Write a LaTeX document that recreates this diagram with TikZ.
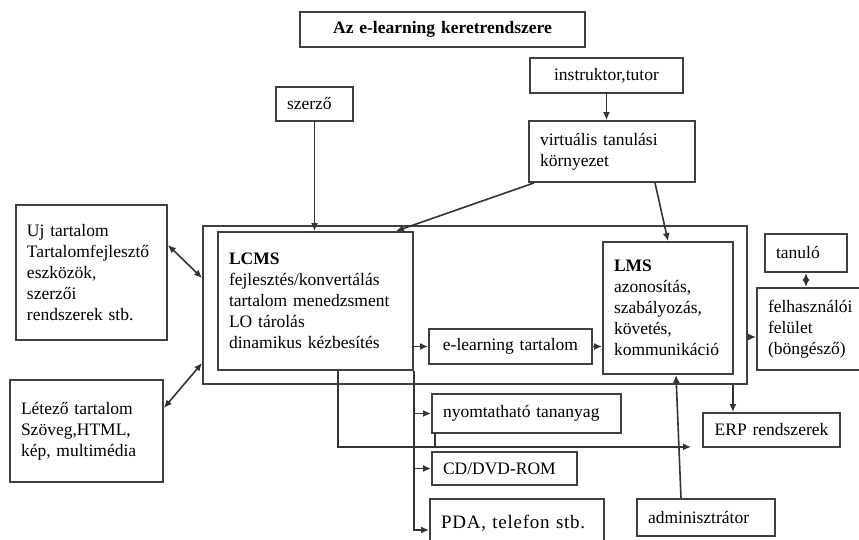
\documentclass[tikz,border=0pt]{standalone}
\usepackage{fontspec}
\setmainfont{Liberation Serif}
\usetikzlibrary{arrows.meta}

\begin{document}
\begin{tikzpicture}[x=1pt,y=-1pt,
  box/.style={draw=black!75,line width=1.8pt,inner xsep=11pt,inner ysep=0pt,align=left,
    font=\fontsize{17.5}{21}\selectfont},
  arr/.style={draw=black!80,line width=1.6pt,-{Latex[length=8pt,width=7pt]}},
  darr/.style={arr,{Latex[length=8pt,width=7pt]}-{Latex[length=8pt,width=7pt]}},
  line/.style={draw=black!80,line width=1.6pt}]

\useasboundingbox (0,0) rectangle (859,540);

%top
\node[box,text width=263pt,minimum height=35pt,align=center,font=\fontsize{17.5}{21}\selectfont\bfseries] (title) at (442.5,29.5) {Az e-learning keretrendszere};
\node[box,text width=131pt,minimum height=35pt,align=center] (instr) at (606.5,75.5) {instruktor,tutor};
\node[box,text width=55pt,minimum height=34pt] (szerzo) at (314.5,104) {szerző};
\node[box,text width=144pt,minimum height=61pt] (virt) at (612,151.5) {virtuális tanulási\\környezet};

%left
\node[box,text width=129pt,minimum height=135pt] (uj) at (91.5,272.5) {Uj tartalom\\Tartalomfejlesztő\\eszközök,\\szerzői\\rendszerek stb.};
\node[box,text width=131pt,minimum height=102pt] (letezo) at (86.5,431) {Létező tartalom\\Szöveg,HTML,\\kép, multimédia};

%middle
\node[box,minimum width=544pt,minimum height=158pt] (outer) at (475,305) {};
\node[box,text width=173pt,minimum height=138pt] (lcms) at (315.5,301) {\textbf{LCMS}\\fejlesztés/konvertálás\\tartalom menedzsment\\LO tárolás\\dinamikus kézbesítés};
\node[box,text width=108pt,minimum height=132pt] (lms) at (668,308) {\textbf{LMS}\\azonosítás,\\szabályozás,\\követés,\\kommunikáció};
\node[box,text width=141pt,minimum height=35pt,align=center] (elt) at (510.5,346.5) {e-learning tartalom};

%right
\node[box,text width=60pt,minimum height=38pt] (tanulo) at (806,253) {tanuló};
\node[box,text width=90pt,minimum height=82pt] (felh) at (813,329) {felhasználói\\felület\\(böngésző)};

%bottom
\node[box,text width=167pt,minimum height=39pt] (nyomt) at (526.5,413.5) {nyomtatható tananyag};
\node[box,text width=123pt,minimum height=33pt] (cd) at (504.5,468.5) {CD/DVD-ROM};
\node[box,text width=152pt,minimum height=49pt,font=\fontsize{19}{23}\selectfont\addfontfeature{LetterSpace=4}] (pda) at (517,523.5) {PDA, telefon stb.};
\node[box,text width=116pt,minimum height=37pt] (admin) at (706,517.5) {adminisztrátor};
\node[box,text width=115pt,minimum height=34pt,align=center] (erp) at (771.5,430) {ERP rendszerek};

%arrows from above
\draw[arr] (szerzo.south) -- (szerzo.south |- lcms.north);
\draw[arr] (instr.south) -- (instr.south |- virt.north);
\draw[arr] ([xshift=6pt]virt.south west) -- ([xshift=-18pt]lcms.north east);
\draw[arr] ([xshift=43pt]virt.south) -- (lms.north);

%left side
\draw[darr] ([yshift=27.5pt]uj.east) -- ([yshift=27pt]outer.west);
\draw[darr] ([yshift=23pt]letezo.east) -- ([yshift=-58pt]outer.west);

%inside
\draw[arr] (lcms.east |- elt.west) -- (elt.west);
\draw[arr] (elt.east) -- (elt.east -| lms.west);

%right side
\draw[arr] ([yshift=-8pt]felh.west -| outer.east) -- ([yshift=-8pt]felh.west);
\draw[darr] (tanulo.south) -- (tanulo.south |- felh.north);
\draw[arr] ([xshift=-15pt]outer.south east) -- ([xshift=-15pt]outer.south east |- erp.north);
\draw[arr] ([xshift=-25pt]admin.north) -- ([xshift=8pt]lms.south);

%outputs
\draw[arr] (lcms.south east) |- ([yshift=-6.5pt]pda.west);
\draw[arr] (lcms.south east |- nyomt.west) -- (nyomt.west);
\draw[arr] (lcms.south east |- cd.west) -- (cd.west);
\draw[arr] ([xshift=22.5pt]lcms.south) |- ([xshift=-11pt,yshift=1pt]erp.south west);
\draw[line] ([xshift=4pt]nyomt.south west) -- ++(0,13);

\end{tikzpicture}
\end{document}
